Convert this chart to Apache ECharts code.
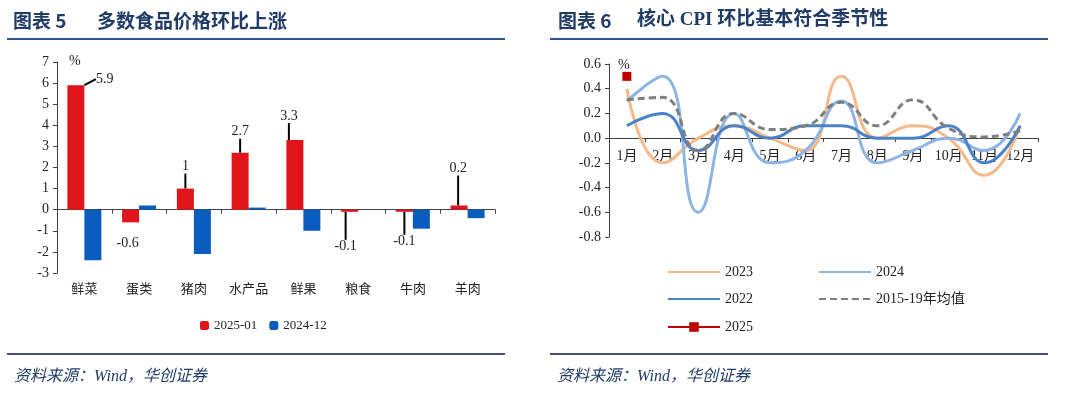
<!DOCTYPE html>
<html><head><meta charset="utf-8">
<script src="https://cdn.jsdelivr.net/npm/echarts@6/dist/echarts.min.js"></script>
<style>html,body{margin:0;padding:0;background:#fff}#c{width:1080px;height:394px}</style>
</head><body><div id="c"></div>
<script>
// ---- Left chart data ----
const foodCategories = ['鲜菜','蛋类','猪肉','水产品','鲜果','粮食','牛肉','羊肉'];
const food202501 = [5.9, -0.6, 1, 2.7, 3.3, -0.1, -0.1, 0.2];
const food202412 = [-2.4, 0.2, -2.1, 0.1, -1.0, 0, -0.9, -0.4];
const foodSeriesNames = ['2025-01', '2024-12'];
const foodAxis = {min: -3, max: 7, interval: 1};

// ---- Right chart data ----
const months = ['1月','2月','3月','4月','5月','6月','7月','8月','9月','10月','11月','12月'];
const core2023 = [0.4, -0.2, 0.0, 0.1, 0.0, -0.1, 0.5, 0.0, 0.1, 0.0, -0.3, 0.1];
const core2024 = [0.3, 0.5, -0.6, 0.2, -0.2, -0.1, 0.3, -0.2, -0.1, 0.0, -0.1, 0.2];
const core2022 = [0.1, 0.2, -0.1, 0.1, 0.0, 0.1, 0.1, 0.0, 0.0, 0.1, -0.2, 0.1];
const core1519 = [0.31, 0.33, -0.1, 0.2, 0.07, 0.1, 0.29, 0.1, 0.31, 0.08, 0.01, 0.06];
const core2025 = [0.5, null, null, null, null, null, null, null, null, null, null, null];
const coreNames = ['2023', '2024', '2022', '2015-19年均值', '2025'];
const coreAxis = {min: -0.8, max: 0.6, interval: 0.2};

const SERIF = '"Liberation Serif","Noto Sans CJK SC",serif';
const CJK = '"Noto Sans CJK SC",sans-serif';
const NAVY = '#1f3b66';

// label placement offsets for the red bar labels (dx, dy, align, show leader)
const labelPlace = [[20,-6,'left',true],[-3,21,'center',false],[0,-22,'center',true],[0,-21,'center',true],[-6,-24,'center',true],[-4,35,'center',true],[0,30,'center',true],[-1,-37,'center',true]];

// right grid geometry
const rGrid = {left: 609, top: 64, width: 429, height: 173};
const zeroFromBottom = rGrid.height * (0 - coreAxis.min) / (coreAxis.max - coreAxis.min);

const chart = echarts.init(document.getElementById('c'));
const axisLineStyle = {color: '#404040', width: 1};
const hideSym = {color: 'transparent', borderColor: 'transparent', borderWidth: 0};

const option = {
  animation: false,
  backgroundColor: '#fff',
  title: [
    {text: '图表 5', left: 8, top: 6, textStyle: {fontFamily: CJK, fontSize: 19, fontWeight: 'bold', color: NAVY}},
    {text: '多数食品价格环比上涨', left: 92, top: 6, textStyle: {fontFamily: CJK, fontSize: 19, fontWeight: 'bold', color: NAVY}},
    {text: '图表 6', left: 553, top: 6, textStyle: {fontFamily: CJK, fontSize: 19, fontWeight: 'bold', color: NAVY}},
    {text: '核心 CPI 环比基本符合季节性', left: 632, top: 6, textStyle: {fontFamily: SERIF, fontSize: 19, fontWeight: 'bold', color: NAVY}},
    {text: '资料来源：Wind，华创证券', left: 9, top: 364, textStyle: {fontFamily: SERIF, fontSize: 16, fontStyle: 'italic', fontWeight: 'normal', color: NAVY}},
    {text: '资料来源：Wind，华创证券', left: 552, top: 364, textStyle: {fontFamily: SERIF, fontSize: 16, fontStyle: 'italic', fontWeight: 'normal', color: NAVY}}
  ],
  graphic: [
    {type: 'line', shape: {x1: 7, y1: 39, x2: 505, y2: 39}, style: {stroke: '#2f5597', lineWidth: 2}},
    {type: 'line', shape: {x1: 550, y1: 39, x2: 1048, y2: 39}, style: {stroke: '#2f5597', lineWidth: 2}},
    {type: 'line', shape: {x1: 7, y1: 354, x2: 505, y2: 354}, style: {stroke: '#44546a', lineWidth: 2}},
    {type: 'line', shape: {x1: 550, y1: 354, x2: 1048, y2: 354}, style: {stroke: '#44546a', lineWidth: 2}},
    {type: 'text', left: 69, top: 54, style: {text: '%', font: '14px ' + SERIF, fill: '#222'}},
    {type: 'text', left: 618, top: 58, style: {text: '%', font: '14px ' + SERIF, fill: '#222'}}
  ],
  legend: [
    {left: 200, top: 319, padding: 0, itemWidth: 9, itemHeight: 9, itemGap: 12, data: foodSeriesNames,
     textStyle: {fontFamily: SERIF, fontSize: 13, color: '#222'}},
    {left: 667, top: 265, padding: 0, itemWidth: 52, itemHeight: 12, itemStyle: hideSym, data: [coreNames[0]], textStyle: {fontFamily: SERIF, fontSize: 14, color: '#222'}},
    {left: 818, top: 265, padding: 0, itemWidth: 52, itemHeight: 12, itemStyle: hideSym, data: [coreNames[1]], textStyle: {fontFamily: SERIF, fontSize: 14, color: '#222'}},
    {left: 667, top: 292, padding: 0, itemWidth: 52, itemHeight: 12, itemStyle: hideSym, data: [coreNames[2]], textStyle: {fontFamily: SERIF, fontSize: 14, color: '#222'}},
    {left: 818, top: 292, padding: 0, itemWidth: 52, itemHeight: 12, itemStyle: hideSym, data: [coreNames[3]], textStyle: {fontFamily: SERIF, fontSize: 14, color: '#222'}},
    {left: 667, top: 320, padding: 0, itemWidth: 52, itemHeight: 12, data: [coreNames[4]], textStyle: {fontFamily: SERIF, fontSize: 14, color: '#222'}}
  ],
  grid: [
    {left: 57, top: 62, width: 438, height: 211, containLabel: false},
    {left: rGrid.left, top: rGrid.top, width: rGrid.width, height: rGrid.height, containLabel: false}
  ],
  xAxis: [
    {gridIndex: 0, type: 'category', data: foodCategories, position: 'bottom',
     axisLine: {show: false, onZero: false}, axisTick: {show: false},
     axisLabel: {fontFamily: CJK, fontSize: 13, color: '#222', margin: 9, interval: 0}},
    {gridIndex: 0, type: 'category', data: foodCategories, position: 'bottom',
     axisLine: {show: true, onZero: true, lineStyle: axisLineStyle},
     axisTick: {show: true, length: 4, lineStyle: axisLineStyle}, axisLabel: {show: false}},
    {gridIndex: 1, type: 'category', data: months, position: 'bottom',
     axisLine: {onZero: false, show: false}, axisTick: {show: false},
     axisLabel: {fontFamily: SERIF, fontSize: 14, color: '#222', margin: 11 - zeroFromBottom, interval: 0}},
    {gridIndex: 1, type: 'category', data: months, position: 'bottom',
     axisLine: {show: true, onZero: true, lineStyle: axisLineStyle},
     axisTick: {show: true, length: 4, lineStyle: axisLineStyle}, axisLabel: {show: false}}
  ],
  yAxis: [
    {gridIndex: 0, type: 'value', min: foodAxis.min, max: foodAxis.max, interval: foodAxis.interval,
     splitLine: {show: false}, axisLine: {show: true, lineStyle: axisLineStyle},
     axisTick: {show: true, length: 4, lineStyle: axisLineStyle},
     axisLabel: {fontFamily: SERIF, fontSize: 14, color: '#222', margin: 8}},
    {gridIndex: 1, type: 'value', min: coreAxis.min, max: coreAxis.max, interval: coreAxis.interval,
     splitLine: {show: false}, axisLine: {show: true, lineStyle: axisLineStyle},
     axisTick: {show: true, length: 4, lineStyle: axisLineStyle},
     axisLabel: {fontFamily: SERIF, fontSize: 14, color: '#222', margin: 8, formatter: v => v.toFixed(1)}}
  ],
  series: [
    {name: foodSeriesNames[0], type: 'bar', xAxisIndex: 0, yAxisIndex: 0, barWidth: 17, barGap: '0%',
     itemStyle: {color: '#e1141c'},
     data: food202501.map((v, i) => ({value: v, labelLine: {show: labelPlace[i][3]}})),
     label: {show: true, fontFamily: SERIF, fontSize: 14, color: '#222', formatter: p => String(p.value)},
     labelLine: {show: true, lineStyle: {color: '#000', width: 2}},
     labelLayout: function (p) {
       const i = p.dataIndex, o = labelPlace[i], r = p.rect;
       const ax = r.x + r.width / 2;
       const ay = food202501[i] >= 0 ? r.y : r.y + r.height;
       return {x: ax + o[0], y: ay + o[1], align: o[2], verticalAlign: 'middle'};
     }},
    {name: foodSeriesNames[1], type: 'bar', xAxisIndex: 0, yAxisIndex: 0, barWidth: 17, barGap: '0%',
     itemStyle: {color: '#0a5cbf'}, data: food202412},
    {name: coreNames[0], type: 'line', xAxisIndex: 2, yAxisIndex: 1, smooth: 0.5, symbol: 'none',
     lineStyle: {color: '#f5b98a', width: 3}, itemStyle: {color: '#f5b98a'}, data: core2023},
    {name: coreNames[1], type: 'line', xAxisIndex: 2, yAxisIndex: 1, smooth: 0.5, symbol: 'none',
     lineStyle: {color: '#8db4e2', width: 3}, itemStyle: {color: '#8db4e2'}, data: core2024},
    {name: coreNames[2], type: 'line', xAxisIndex: 2, yAxisIndex: 1, smooth: 0.5, symbol: 'none',
     lineStyle: {color: '#4a82c8', width: 3}, itemStyle: {color: '#4a82c8'}, data: core2022},
    {name: coreNames[3], type: 'line', xAxisIndex: 2, yAxisIndex: 1, smooth: 0.5, symbol: 'none',
     lineStyle: {color: '#7f7f7f', width: 3, type: [7, 4]}, itemStyle: {color: '#7f7f7f'}, data: core1519},
    {name: coreNames[4], type: 'line', xAxisIndex: 2, yAxisIndex: 1, symbol: 'rect', symbolSize: 9, showSymbol: true,
     lineStyle: {color: '#c00000', width: 3}, itemStyle: {color: '#c00000'}, data: core2025}
  ]
};
chart.setOption(option);
</script></body></html>
